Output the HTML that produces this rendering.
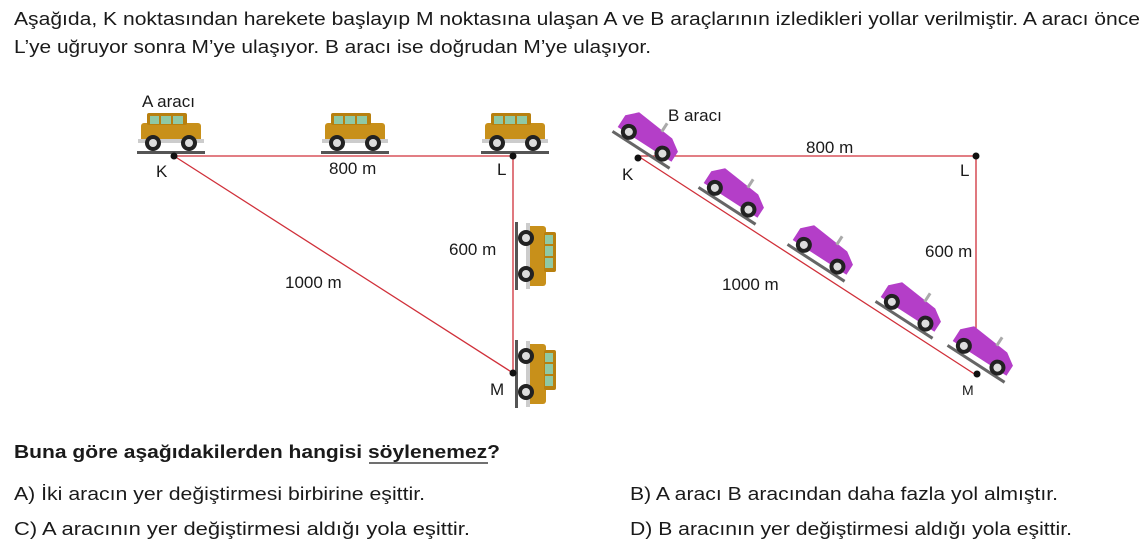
<!DOCTYPE html>
<html><head><meta charset="utf-8"><style>
html,body{margin:0;padding:0;background:#fff;}
svg{display:block;font-family:"Liberation Sans",sans-serif;}
</style></head><body>
<svg width="1148" height="548" viewBox="0 0 1148 548" xmlns="http://www.w3.org/2000/svg">
<defs>
<g id="jeep">
<rect x="-34" y="18" width="68" height="3" fill="#555"/>
<rect x="-30" y="-10" width="60" height="20" rx="3" fill="#c8901a"/>
<rect x="-24" y="-20" width="40" height="12" rx="2" fill="#b8800f"/>
<rect x="-21" y="-17" width="9" height="8" fill="#8fc9a4"/>
<rect x="-10" y="-17" width="10" height="8" fill="#8fc9a4"/>
<rect x="2" y="-17" width="10" height="8" fill="#8fc9a4"/>
<rect x="-33" y="6" width="66" height="4" fill="#ccc"/>
<circle cx="-18" cy="10" r="8" fill="#222"/><circle cx="-18" cy="10" r="4" fill="#ddd"/>
<circle cx="18" cy="10" r="8" fill="#222"/><circle cx="18" cy="10" r="4" fill="#ddd"/>
</g>
<g id="pcar">
<rect x="-34" y="15" width="68" height="3" fill="#666"/>
<path d="M-32,-4 L-22,-14 L20,-10 L32,-2 L32,10 L-32,10 Z" fill="#b43ec8"/>
<rect x="6" y="-20" width="3" height="10" fill="#aaa"/>
<circle cx="-20" cy="8" r="8" fill="#222"/><circle cx="-20" cy="8" r="4" fill="#ddd"/>
<circle cx="20" cy="8" r="8" fill="#222"/><circle cx="20" cy="8" r="4" fill="#ddd"/>
</g>
</defs>
<g font-size="18" fill="#1a1a1a">
<text x="14" y="25" textLength="1126" lengthAdjust="spacingAndGlyphs">Aşağıda, K noktasından harekete başlayıp M noktasına ulaşan A ve B araçlarının izledikleri yollar verilmiştir. A aracı önce</text>
<text x="14" y="53" textLength="637" lengthAdjust="spacingAndGlyphs">L’ye uğruyor sonra M’ye ulaşıyor. B aracı ise doğrudan M’ye ulaşıyor.</text>
</g>
<!-- left diagram -->
<g stroke="#d0303a" stroke-width="1.3" fill="none">
<line x1="174" y1="156" x2="513" y2="156"/>
<line x1="513" y1="156" x2="513" y2="373"/>
<line x1="174" y1="156" x2="513" y2="373"/>
</g>
<use href="#jeep" x="171" y="133"/>
<use href="#jeep" x="355" y="133"/>
<use href="#jeep" x="515" y="133"/>
<use href="#jeep" transform="translate(536,256) rotate(90)"/>
<use href="#jeep" transform="translate(536,374) rotate(90)"/>
<circle cx="174" cy="156" r="3.5" fill="#111"/>
<circle cx="513" cy="156" r="3.5" fill="#111"/>
<circle cx="513" cy="373" r="3.5" fill="#111"/>
<g font-size="17" fill="#1a1a1a">
<text x="142" y="107">A aracı</text>
<text x="156" y="177">K</text>
<text x="329" y="174">800 m</text>
<text x="497" y="175">L</text>
<text x="449" y="255">600 m</text>
<text x="285" y="288">1000 m</text>
<text x="490" y="395">M</text>
</g>
<!-- right diagram -->
<g stroke="#d0303a" stroke-width="1.3" fill="none">
<line x1="638" y1="156" x2="976" y2="156"/>
<line x1="976" y1="156" x2="976" y2="352"/>
<line x1="638" y1="156" x2="976" y2="375"/>
</g>
<use href="#pcar" transform="translate(650,136) rotate(32.9)"/>
<use href="#pcar" transform="translate(736,192) rotate(32.9)"/>
<use href="#pcar" transform="translate(825,249) rotate(32.9)"/>
<use href="#pcar" transform="translate(913,306) rotate(32.9)"/>
<use href="#pcar" transform="translate(985,350) rotate(32.9)"/>
<circle cx="638" cy="158" r="3.5" fill="#111"/>
<circle cx="976" cy="156" r="3.5" fill="#111"/>
<circle cx="977" cy="374" r="3.5" fill="#111"/>
<g font-size="17" fill="#1a1a1a">
<text x="668" y="121">B aracı</text>
<text x="622" y="180">K</text>
<text x="806" y="153">800 m</text>
<text x="960" y="176">L</text>
<text x="925" y="257">600 m</text>
<text x="722" y="290">1000 m</text>
<text x="962" y="395" font-size="14">M</text>
</g>
<!-- question -->
<g font-size="18" fill="#1a1a1a">
<text x="14" y="458" font-weight="bold" textLength="486" lengthAdjust="spacingAndGlyphs">Buna göre aşağıdakilerden hangisi söylenemez?</text>
<line x1="369" y1="463" x2="488" y2="463" stroke="#1a1a1a" stroke-width="1.3"/>
<text x="14" y="500" textLength="411" lengthAdjust="spacingAndGlyphs">A)  İki aracın yer değiştirmesi birbirine eşittir.</text>
<text x="630" y="500" textLength="428" lengthAdjust="spacingAndGlyphs">B) A aracı B aracından daha fazla yol almıştır.</text>
<text x="14" y="535" textLength="456" lengthAdjust="spacingAndGlyphs">C)  A aracının yer değiştirmesi aldığı yola eşittir.</text>
<text x="630" y="535" textLength="442" lengthAdjust="spacingAndGlyphs">D) B aracının yer değiştirmesi aldığı yola eşittir.</text>
</g>
</svg>
</body></html>
